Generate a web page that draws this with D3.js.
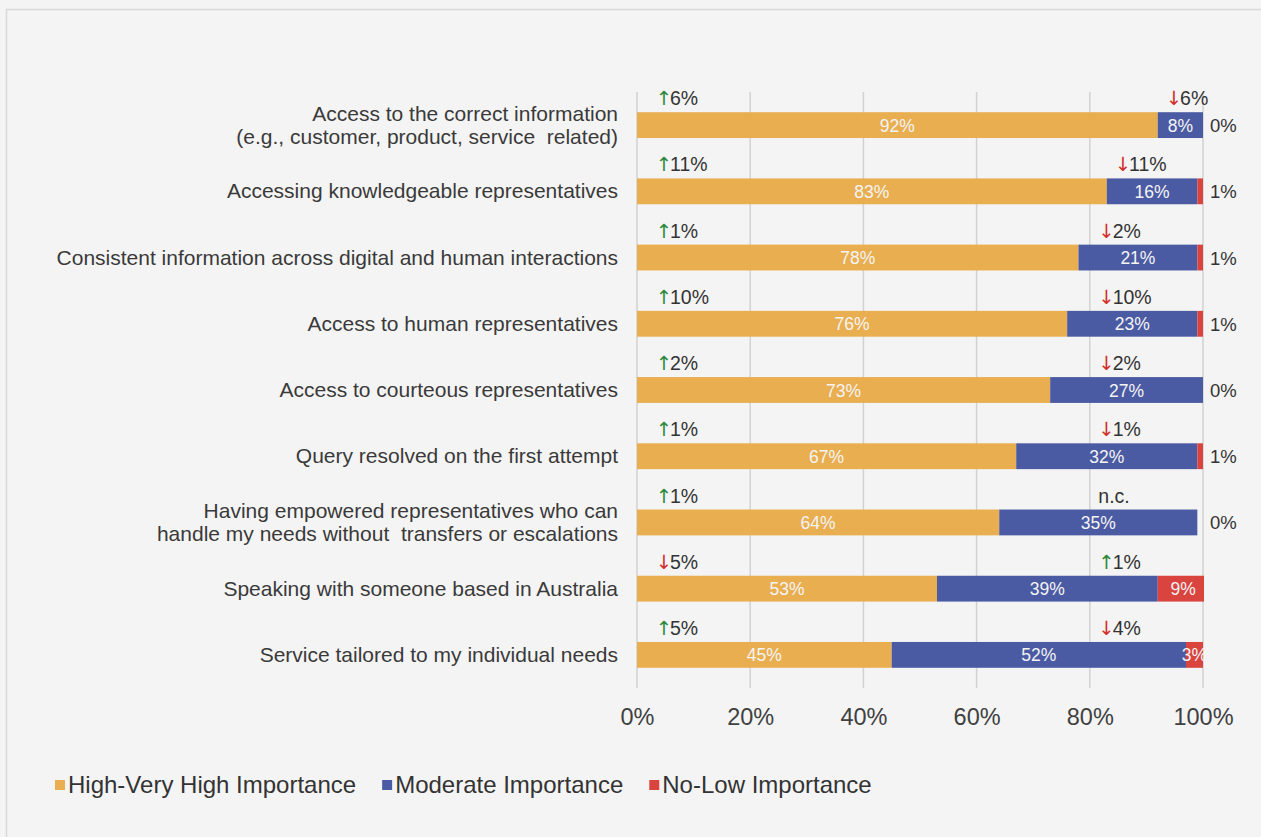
<!DOCTYPE html>
<html>
<head>
<meta charset="utf-8">
<script src="https://cdn.jsdelivr.net/npm/d3@7"></script>
<style>
  html, body { margin: 0; padding: 0; background: #f4f4f4; }
  svg { display: block; font-family: "Liberation Sans", Arial, Helvetica, sans-serif; }
</style>
</head>
<body>
<svg id="chart" width="1261" height="837"></svg>
<script>
// Importance of service attributes (share of respondents)
const categories = [
  "Access to the correct information\n(e.g., customer, product, service  related)",
  "Accessing knowledgeable representatives",
  "Consistent information across digital and human interactions",
  "Access to human representatives",
  "Access to courteous representatives",
  "Query resolved on the first attempt",
  "Having empowered representatives who can\nhandle my needs without  transfers or escalations",
  "Speaking with someone based in Australia",
  "Service tailored to my individual needs"
];
const highImportance     = [92, 83, 78, 76, 73, 67, 64, 53, 45];
const moderateImportance = [8, 16, 21, 23, 27, 32, 35, 39, 52];
const lowImportance      = [0, 1, 1, 1, 0, 1, 0, 9, 3];
// change vs previous wave, percentage points (null = no change)
const highChange     = [6, 11, 1, 10, 2, 1, 1, -5, 5];
const moderateChange = [-6, -11, -2, -10, -2, -1, null, 1, -4];
const seriesNames  = ["High-Very High Importance", "Moderate Importance", "No-Low Importance"];
const seriesColors = ["#e9ae50", "#4b5ba3", "#d9443e"];
const xTicks = [0, 20, 40, 60, 80, 100];

const svg = d3.select("#chart");

// outer frame
svg.append("rect")
  .attr("x", 6.5).attr("y", 9.5).attr("width", 1270).attr("height", 840)
  .attr("fill", "#f4f4f4").attr("stroke", "#d8d8d8").attr("stroke-width", 1.5);

const x = d3.scaleLinear().domain([0, 100]).range([637, 1203]);
const y = d3.scaleBand().domain(categories).range([92, 688])
  .paddingInner(0.61).paddingOuter(0.305);

const rows = categories.map((c, i) => ({
  cat: c,
  vals: [highImportance[i], moderateImportance[i], lowImportance[i]],
  hc: highChange[i],
  mc: moderateChange[i]
}));

// vertical gridlines
svg.append("g").selectAll("line").data(xTicks).join("line")
  .attr("x1", d => x(d)).attr("x2", d => x(d))
  .attr("y1", 92).attr("y2", 688)
  .attr("stroke", "#d2d2d2").attr("stroke-width", 1.5);

// x axis tick labels
const xAxis = d3.axisBottom(x).tickValues(xTicks).tickFormat(d => d + "%").tickSize(0).tickPadding(0);
const gx = svg.append("g").attr("transform", "translate(0,708)").call(xAxis);
gx.select(".domain").remove();
gx.selectAll("text").attr("font-size", 23.5).attr("fill", "#404040")
  .attr("font-family", "'Liberation Sans', Arial, sans-serif");

// clip to the plot area
svg.append("clipPath").attr("id", "plotClip")
  .append("rect").attr("x", x(0)).attr("y", 0).attr("width", x(100) - x(0) + 1).attr("height", 837);

const plot = svg.append("g").attr("clip-path", "url(#plotClip)");

rows.forEach(r => {
  let acc = 0;
  r.segs = r.vals.map((v, k) => {
    const s = { k, v, x0: acc, x1: acc + v };
    acc += v;
    return s;
  });
});

// stacked bars
const rowG = plot.selectAll("g.row").data(rows).join("g").attr("class", "row");
rowG.selectAll("rect").data(r => r.segs.map(s => ({ ...s, cat: r.cat }))).join("rect")
  .attr("x", d => x(d.x0))
  .attr("y", d => y(d.cat))
  .attr("width", d => Math.max(0, x(d.x1) - x(d.x0)))
  .attr("height", y.bandwidth())
  .attr("fill", d => seriesColors[d.k]);

// value labels inside segments
rowG.selectAll("text").data(r => r.segs.filter(s => s.v >= 3).map(s => ({ ...s, cat: r.cat }))).join("text")
  .attr("x", d => x((d.x0 + d.x1) / 2))
  .attr("y", d => y(d.cat) + y.bandwidth() / 2 + 6.5)
  .attr("text-anchor", "middle")
  .attr("font-size", 17.5).attr("fill", "#f4f4f4")
  .text(d => d.v + "%");

// small values outside the bar end
svg.append("g").selectAll("text").data(rows.filter(r => r.vals[2] < 3)).join("text")
  .attr("x", x(100) + 7)
  .attr("y", r => y(r.cat) + y.bandwidth() / 2 + 7)
  .attr("font-size", 18.5).attr("fill", "#333")
  .text(r => r.vals[2] + "%");

// change labels above bars
function changeLabel(sel, v) {
  if (v === null) { sel.append("tspan").attr("fill", "#333").text("n.c."); return; }
  sel.append("tspan")
    .attr("font-family", "'DejaVu Sans', sans-serif")
    .attr("fill", v >= 0 ? "#2f8a3c" : "#d2302c")
    .text(v >= 0 ? "\u2191" : "\u2193");
  sel.append("tspan").attr("dx", -2).attr("fill", "#333").text(Math.abs(v) + "%");
}
const chg = svg.append("g").attr("font-size", 19.5);
rows.forEach(r => {
  const base = y(r.cat) - 7;
  chg.append("text").attr("x", x(3.3)).attr("y", base)
    .call(s => changeLabel(s, r.hc));
  chg.append("text").attr("x", Math.max(x(81.5), x(r.vals[0]) + 8)).attr("y", base)
    .call(s => changeLabel(s, r.mc));
});

// category labels
const yl = svg.append("g").attr("font-size", 21).attr("fill", "#3a3a3a").attr("text-anchor", "end");
rows.forEach(r => {
  const lines = r.cat.split("\n");
  const lh = 23;
  const cy = y(r.cat) + y.bandwidth() / 2 + 7 - (lines.length - 1) * lh / 2;
  const t = yl.append("text").attr("x", 618).attr("y", cy);
  lines.forEach((ln, j) => {
    t.append("tspan").attr("x", 618).attr("dy", j === 0 ? 0 : lh).attr("xml:space", "preserve").text(ln);
  });
});

// legend
const lg = svg.append("g").attr("font-size", 24).attr("fill", "#333");
let lx = 55;
seriesNames.forEach((n, i) => {
  lg.append("rect").attr("x", lx).attr("y", 780).attr("width", 10).attr("height", 10).attr("fill", seriesColors[i]);
  const t = lg.append("text").attr("x", lx + 13).attr("y", 793).text(n);
  lx += 13 + t.node().getComputedTextLength() + 26;
});
</script>
</body>
</html>
